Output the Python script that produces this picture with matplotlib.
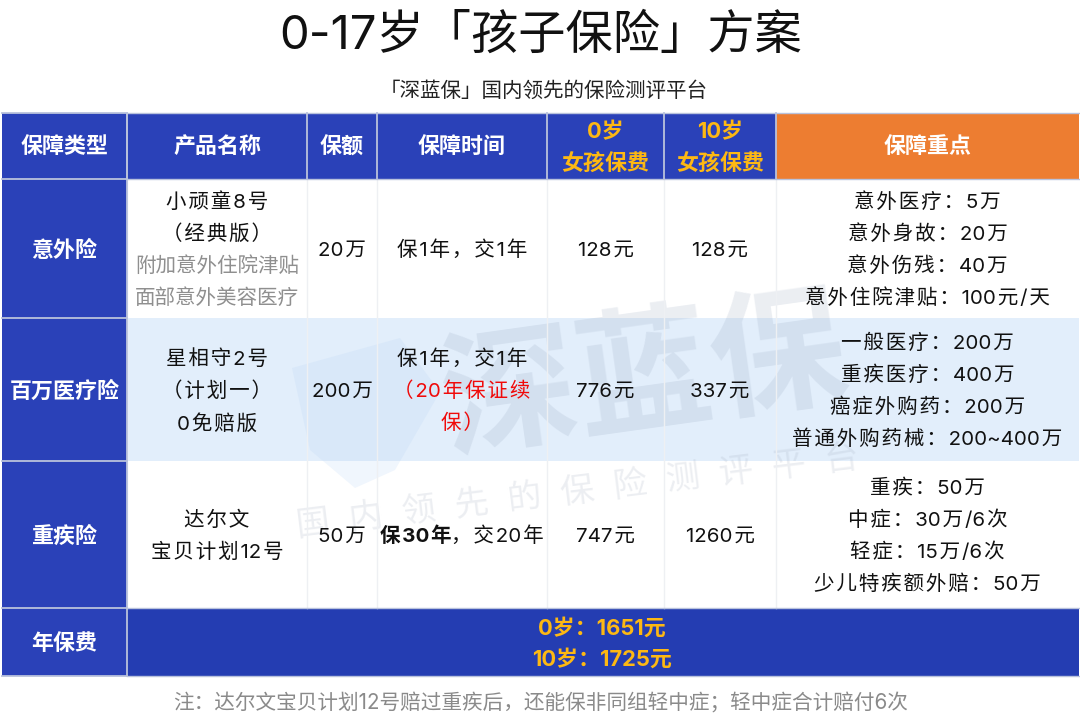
import matplotlib
matplotlib.use('Agg')
import matplotlib.pyplot as plt
from matplotlib.patches import Rectangle, Polygon

# Inter 负责数字和字母，汉字落到 Noto
plt.rcParams['font.family'] = ['Inter', 'Noto Sans CJK SC', 'DejaVu Sans']

title = '0-17岁「孩子保险」方案'
subtitle = '「深蓝保」国内领先的保险测评平台'
headers = ['保障类型', '产品名称', '保额', '保障时间', '0岁\n女孩保费', '10岁\n女孩保费', '保障重点']
types = ['意外险', '百万医疗险', '重疾险']
products = [['小顽童8号', '（经典版）'], ['星相守2号', '（计划一）', '0免赔版'], ['达尔文', '宝贝计划12号']]
product_notes = [['附加意外住院津贴', '面部意外美容医疗'], [], []]
amounts = ['20万', '200万', '50万']
terms = [['保1年，交1年'], ['保1年，交1年', '（20年保证续', '保）'], ['保30年，交20年']]
fee_0 = ['128元', '776元', '747元']
fee_10 = ['128元', '337元', '1260元']
focus = [['意外医疗：5万', '意外身故：20万', '意外伤残：40万', '意外住院津贴：100元/天'],
         ['一般医疗：200万', '重疾医疗：400万', '癌症外购药：200万', '普通外购药械：200~400万'],
         ['重疾：50万', '中症：30万/6次', '轻症：15万/6次', '少儿特疾额外赔：50万']]
total_label = '年保费'
total_lines = ['0岁：1651元', '10岁：1725元']
note = '注：达尔文宝贝计划12号赔过重疾后，还能保非同组轻中症；轻中症合计赔付6次'

BLUE = '#2a41b8'
ORANGE = '#ed7d31'
GOLD = '#fdb813'
GREY = '#8f8f8f'
INK = '#111111'
PALE = '#e2eefb'
LINE = '#b9c2dc'
FAINT = '#eef0f3'

col_x = [2, 127, 307, 377, 547, 664, 776, 1079]
row_y = [113, 179, 318, 461, 608, 676]
line_h = 32
BODY = 14.8
HEAD = 15.8

fig = plt.figure(figsize=(10.8, 7.26), dpi=100)
ax = fig.add_axes([0, 0, 1, 1])
ax.set_xlim(0, 1080)
ax.set_ylim(726, 0)
ax.axis('off')


def cell(x0, x1, y0, y1, color):
    ax.add_patch(Rectangle((x0, y0), x1 - x0, y1 - y0, fc=color, ec='none', zorder=1))


def track(s):
    # 原图字距偏宽，用 hair space 撑开，数字之间不撑
    out = s[0]
    for a, b in zip(s, s[1:]):
        out += b if a.isascii() and b.isascii() else '\u200a' + b
    return out


def lines(x, yc, rows, size=BODY, color=INK, weight='normal'):
    # rows 居中排列
    top = yc - line_h * (len(rows) - 1) / 2
    for i, r in enumerate(rows):
        c = color[i] if isinstance(color, list) else color
        s = r if c == GREY else track(r)
        ax.text(x, top + i * line_h + 2, s, ha='center', va='center', fontsize=size,
                color=c, weight=weight, zorder=5)


ax.text(541, 37, title, ha='center', va='center', fontsize=34, color=INK)
ax.text(544, 91, subtitle, ha='center', va='center', fontsize=14.8, color='#222222')

# 背景
cell(127, 1079, row_y[2], row_y[3], PALE)
for i in range(7):
    c = ORANGE if i == 6 else BLUE
    cell(col_x[i], col_x[i + 1], row_y[0], row_y[1], c)
for i in range(3):
    cell(col_x[0], col_x[1], row_y[i + 1], row_y[i + 2], BLUE)
cell(col_x[0], col_x[1], row_y[4], row_y[5], BLUE)
cell(col_x[1], col_x[7], row_y[4], row_y[5], '#243db2')

# 水印
ax.text(645, 383, '深蓝保', ha='center', va='center', fontsize=98, color='#8a9bb5', alpha=0.17,
        rotation=8, weight='bold', zorder=3)
ax.text(578, 493, '  '.join('国内领先的保险测评平台'), ha='center', va='center', fontsize=24.5,
        color='#aab4c4', alpha=0.22, rotation=7, zorder=3)
ax.add_patch(Polygon([[292, 368], [400, 338], [440, 392], [395, 470], [355, 488], [310, 450]],
                     fc='#b5d2f5', ec='none', alpha=0.2, zorder=2))

# 网格线
for x in col_x[1:-1]:
    ax.plot([x, x], [row_y[1], row_y[4]], color=FAINT, lw=1, zorder=4)
    ax.plot([x, x], [row_y[0], row_y[1]], color=LINE, lw=1.3, zorder=4)
ax.plot([127, 127], [row_y[0], row_y[5]], color=LINE, lw=1.3, zorder=4)
for y in row_y:
    ax.plot([2, 127], [y, y], color=LINE, lw=1.3, zorder=4)
for y in [row_y[0], row_y[1], row_y[4], row_y[5]]:
    ax.plot([127, 1079], [y, y], color=LINE, lw=1.0, zorder=4)

centers_x = [(col_x[i] + col_x[i + 1]) / 2 for i in range(7)]
centers_y = [(row_y[i] + row_y[i + 1]) / 2 for i in range(5)]

for i, h in enumerate(headers):
    rows = h.split('\n')
    c = GOLD if i in (4, 5) else 'white'
    top = 132 if len(rows) == 2 else 147
    for j, r in enumerate(rows):
        ax.text(centers_x[i], top + j * 32, r, ha='center', va='center', fontsize=HEAD,
                color=c, weight='bold', zorder=5)

for i in range(3):
    yc = centers_y[i + 1]
    ax.text(centers_x[0], yc + 1.5, types[i], ha='center', va='center', fontsize=HEAD, color='white',
            weight='bold', zorder=5)
    lines(centers_x[1], yc, products[i] + product_notes[i],
          color=[INK] * len(products[i]) + [GREY] * len(product_notes[i]))
    lines(centers_x[2], yc, [amounts[i]])
    if i == 1:
        lines(centers_x[3], yc, terms[i], color=[INK, '#f00a0a', '#f00a0a'])
    elif i == 2:
        head, tail = terms[i][0].split('，')
        ax.text(451, yc + 2, track(head), ha='right', va='center', fontsize=BODY, color=INK,
                weight='bold', zorder=5)
        ax.text(451, yc + 2, track('，' + tail), ha='left', va='center', fontsize=BODY, color=INK, zorder=5)
    else:
        lines(centers_x[3], yc, terms[i])
    lines(centers_x[4], yc, [fee_0[i]])
    lines(centers_x[5], yc, [fee_10[i]])
    lines(centers_x[6], yc, focus[i])

ax.text(centers_x[0], centers_y[4] + 1.5, total_label, ha='center', va='center', fontsize=HEAD,
        color='white', weight='bold', zorder=5)
for j, t in enumerate(total_lines):
    ax.text(602, 628 + j * 31, t, ha='center', va='center', fontsize=HEAD, color=GOLD,
            weight='bold', zorder=5)

ax.text(541, 702, note, ha='center', va='center', fontsize=14.85, color='#8a8a8a')

fig.savefig('out.png', dpi=100, facecolor='white')
